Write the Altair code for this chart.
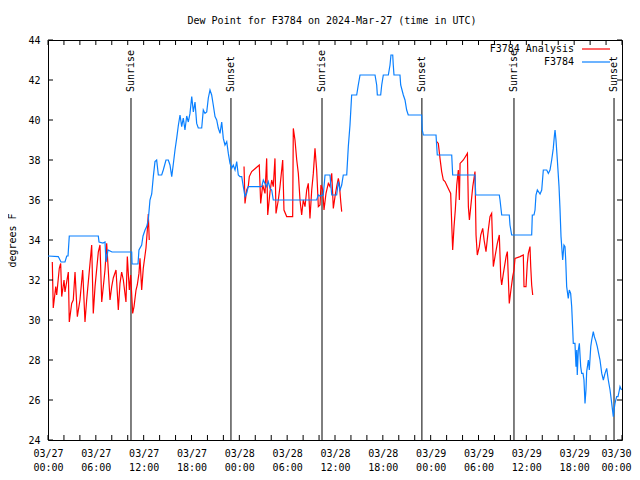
import json
import altair as alt
import pandas as pd

FONT = "DejaVu Sans Mono"

title_text = "Dew Point for F3784 on 2024-Mar-27 (time in UTC)"
y_title = "degrees F"

x_label_hours = [0, 6, 12, 18, 24, 30, 36, 42, 48, 54, 60, 66, 72]
x_tick_dates = ["03/27", "03/27", "03/27", "03/27", "03/28", "03/28", "03/28",
                "03/28", "03/29", "03/29", "03/29", "03/29", "03/30"]
x_tick_times = ["00:00", "06:00", "12:00", "18:00", "00:00", "06:00", "12:00",
                "18:00", "00:00", "06:00", "12:00", "18:00", "00:00"]
x_minor_hours = list(range(0, 73, 2))
y_ticks = list(range(24, 45, 2))

sun_hours = [10.41, 22.95, 34.37, 46.90, 58.45, 71.00]
sun_names = ["Sunrise", "Sunset", "Sunrise", "Sunset", "Sunrise", "Sunset"]

legend_names = ["F3784 Analysis", "F3784"]
series_colors = ["#ff0000", "#0a80ff"]

# observed dew point (hours since 03/27 00:00 UTC, degrees F)
blue_obs = [
    (0.0, 33.2), (1.29, 33.17), (1.63, 32.9), (2.13, 32.9), (2.35, 33.2), (2.51, 33.2),
    (2.67, 34.2), (6.31, 34.2), (6.40, 33.9), (6.90, 33.85), (7.15, 33.9), (7.28, 32.9),
    (7.53, 33.5), (8.03, 33.4), (10.50, 33.4), (10.54, 32.8), (11.29, 32.8), (11.41, 33.5),
    (11.75, 33.75), (11.92, 34.2), (12.17, 34.5), (12.38, 34.67), (12.58, 35.0),
    (12.79, 36.0), (13.01, 36.3), (13.21, 37.17), (13.42, 37.92), (13.63, 38.0),
    (13.84, 37.25), (14.26, 37.25), (14.46, 37.5), (14.80, 38.0), (15.09, 38.0),
    (15.30, 37.75), (15.52, 37.17), (15.72, 37.8), (15.93, 38.5), (16.14, 39.08),
    (16.34, 39.7), (16.56, 40.25), (16.77, 39.67), (16.97, 40.1), (17.18, 39.5),
    (17.40, 40.2), (17.60, 39.9), (17.81, 40.33), (18.03, 41.17), (18.23, 40.4),
    (18.44, 40.9), (18.65, 39.83), (18.85, 39.6), (19.28, 39.6), (19.48, 40.5),
    (19.69, 40.33), (19.91, 40.4), (20.11, 41.1), (20.32, 41.5), (20.53, 41.25),
    (20.73, 40.75), (20.95, 40.17), (21.16, 40.0), (21.36, 39.6), (21.58, 39.33),
    (21.79, 39.9), (21.99, 39.08), (22.20, 38.75), (22.42, 38.92), (22.62, 38.33),
    (22.83, 37.83), (23.04, 37.58), (23.24, 37.75), (23.46, 37.5), (23.67, 37.92),
    (23.87, 37.25), (24.08, 37.17), (24.30, 37.17), (24.50, 36.67), (24.71, 36.17),
    (24.92, 36.33), (25.12, 36.67), (26.81, 36.67), (27.01, 37.0), (27.22, 36.83),
    (27.43, 36.67), (27.63, 36.92), (27.85, 36.58), (28.06, 36.5), (28.26, 36.0),
    (33.70, 36.0), (33.91, 36.25), (34.12, 36.2), (34.53, 36.25), (34.75, 37.25),
    (35.37, 37.25), (35.59, 36.25), (36.21, 36.25), (36.42, 36.92), (36.63, 36.5),
    (36.84, 36.75), (37.04, 37.25), (37.47, 37.25), (37.67, 38.67), (37.88, 39.75),
    (38.09, 41.25), (38.72, 41.25), (38.92, 41.75), (39.14, 42.25), (41.02, 42.25),
    (41.23, 41.75), (41.31, 41.25), (41.73, 41.25), (41.86, 41.75), (42.06, 42.25),
    (42.69, 42.25), (42.90, 42.75), (43.02, 43.25), (43.24, 43.25), (43.31, 42.75),
    (43.40, 42.25), (44.15, 42.25), (44.24, 41.75), (44.57, 41.25), (44.78, 41.0),
    (44.99, 40.5), (45.19, 40.25), (46.87, 40.25), (46.95, 39.5), (47.08, 39.25),
    (48.67, 39.25), (48.83, 38.25), (50.64, 38.25), (50.76, 37.25), (53.56, 37.25),
    (53.65, 36.25), (56.61, 36.25), (56.70, 36.0), (56.91, 35.25), (57.86, 35.25),
    (57.95, 34.75), (58.16, 34.25), (60.67, 34.25), (60.75, 35.25), (60.96, 35.25),
    (61.09, 35.5), (61.21, 36.25), (61.38, 36.5), (61.72, 36.3), (61.93, 36.5),
    (62.13, 37.5), (62.56, 37.5), (62.76, 37.33), (62.97, 37.5), (63.18, 38.0),
    (63.38, 38.58), (63.51, 39.17), (63.60, 39.5), (63.72, 39.0), (63.89, 38.0),
    (64.10, 36.67), (64.22, 35.58), (64.35, 34.17), (64.56, 33.0), (64.72, 33.75),
    (64.85, 33.67), (64.94, 33.0), (65.06, 31.67), (65.26, 31.08), (65.39, 31.5),
    (65.56, 31.33), (65.69, 30.67), (65.82, 29.5), (65.89, 28.83), (66.10, 28.83),
    (66.23, 27.67), (66.32, 28.5), (66.39, 27.25), (66.52, 28.5), (66.65, 28.83),
    (66.82, 27.67), (66.94, 27.33), (67.11, 27.33), (67.23, 27.0), (67.36, 25.83),
    (67.48, 26.5), (67.57, 27.42), (67.78, 28.0), (67.90, 27.5), (68.08, 28.67),
    (68.20, 29.0), (68.40, 29.42), (68.53, 29.17), (68.74, 28.92), (68.90, 28.67),
    (69.15, 28.17), (69.24, 28.0), (69.46, 27.33), (69.66, 27.0), (69.87, 27.33),
    (70.08, 27.58), (70.28, 27.0), (70.50, 26.5), (70.71, 25.83), (70.91, 25.17),
    (71.00, 25.5), (71.12, 25.83), (71.33, 26.17), (71.50, 26.17), (71.67, 26.5),
    (71.75, 26.67), (71.94, 26.5),
]

# analysis dew point, three separate pieces
red_seg1 = [
    (0.54, 32.9), (0.66, 30.6), (0.97, 31.67), (1.09, 31.25), (1.42, 32.6), (1.59, 32.83),
    (1.72, 31.17), (2.01, 32.0), (2.13, 31.4), (2.55, 32.4), (2.67, 29.9), (2.97, 30.83),
    (3.17, 31.0), (3.39, 32.4), (3.68, 30.17), (4.01, 31.0), (4.35, 32.5), (4.64, 29.9),
    (4.85, 31.0), (5.27, 32.83), (5.48, 33.75), (5.68, 30.33), (5.90, 31.67), (6.31, 33.4),
    (6.52, 33.75), (6.74, 30.9), (7.15, 32.5), (7.36, 33.83), (7.56, 32.5), (7.78, 31.0),
    (7.99, 31.67), (8.19, 32.1), (8.53, 32.5), (8.82, 30.5), (9.03, 31.83), (9.24, 32.4),
    (9.45, 32.0), (9.78, 30.9), (9.95, 33.17), (10.20, 31.5), (10.37, 32.25), (10.62, 30.33),
    (10.79, 30.67), (11.04, 31.5), (11.20, 31.75), (11.41, 32.33), (11.54, 33.08),
    (11.75, 31.5), (11.95, 32.58), (12.29, 33.6), (12.46, 34.5), (12.58, 35.3), (12.70, 34.0),
]
red_seg2 = [
    (24.59, 37.67), (24.71, 35.83), (24.92, 36.5), (25.12, 36.67), (25.25, 37.17),
    (25.55, 37.42), (26.50, 37.75), (26.68, 35.83), (26.93, 36.75), (27.22, 36.33),
    (27.43, 38.08), (27.56, 35.25), (27.85, 36.42), (28.06, 37.0), (28.26, 36.67),
    (28.47, 38.08), (28.60, 35.33), (28.89, 36.0), (29.10, 36.67), (29.44, 38.0),
    (29.60, 35.5), (29.94, 35.17), (30.69, 35.17), (30.77, 39.58), (30.98, 39.0),
    (31.20, 38.0), (31.40, 37.33), (31.61, 36.0), (31.82, 35.25), (32.02, 36.0),
    (32.24, 35.67), (32.45, 36.5), (32.65, 36.83), (32.86, 35.08), (33.08, 36.5),
    (33.28, 37.33), (33.49, 38.58), (33.70, 37.5), (33.91, 35.67), (34.12, 35.75),
    (34.24, 36.75), (34.46, 36.5), (34.62, 35.5), (34.87, 36.33), (35.16, 36.83),
    (35.37, 36.67), (35.59, 37.33), (35.79, 35.58), (36.00, 36.17), (36.21, 36.67),
    (36.42, 37.08), (36.54, 36.83), (36.72, 35.92), (36.84, 35.42),
]
red_seg3 = [
    (48.76, 38.92), (48.96, 38.83), (49.17, 38.08), (49.38, 37.42), (49.59, 37.0),
    (49.80, 36.92), (50.21, 36.58), (50.51, 36.33), (50.64, 34.83), (50.76, 33.5),
    (50.93, 34.67), (51.09, 35.5), (51.27, 36.75), (51.47, 37.5), (51.60, 36.0),
    (51.69, 37.83), (52.10, 38.0), (52.61, 38.33), (52.73, 35.67), (52.86, 35.0),
    (53.03, 35.67), (53.28, 36.67), (53.56, 37.42), (53.69, 34.25), (53.85, 33.25),
    (54.10, 33.67), (54.28, 34.25), (54.53, 34.58), (54.70, 34.0), (54.94, 33.42),
    (55.23, 34.5), (55.44, 35.17), (55.65, 35.33), (55.86, 32.67), (56.07, 33.17),
    (56.36, 33.83), (56.61, 34.25), (56.79, 32.17), (56.91, 31.75), (57.12, 32.33),
    (57.46, 33.17), (57.62, 33.42), (57.75, 32.0), (57.86, 30.83), (58.04, 31.42),
    (58.29, 32.17), (58.45, 32.5), (58.58, 33.08), (59.21, 33.17), (59.62, 33.25),
    (59.71, 31.67), (59.96, 31.67), (60.12, 32.83), (60.25, 33.33), (60.46, 33.67),
    (60.55, 32.67), (60.67, 31.75), (60.80, 31.25),
]

# ---------------- tables ----------------
blue_df = pd.DataFrame(blue_obs, columns=["h", "v"])
red_parts = []
for i, seg in enumerate([red_seg1, red_seg2, red_seg3]):
    d = pd.DataFrame(seg, columns=["h", "v"])
    d["seg"] = i
    red_parts.append(d)
red_df = pd.concat(red_parts, ignore_index=True)
sun_df = pd.DataFrame({"h": sun_hours, "name": sun_names})
xt_df = pd.DataFrame({"h": x_minor_hours})
yt_df = pd.DataFrame({"v": y_ticks})

W, H = 574, 400

xs = alt.Scale(domain=[0, 72], nice=False, zero=False)
ys = alt.Scale(domain=[24, 44], nice=False, zero=False)

label_expr = "[{d}[datum.value / 6], {t}[datum.value / 6]]".format(
    d=json.dumps(x_tick_dates), t=json.dumps(x_tick_times))
last_hour = x_label_hours[-1]

x_axis = alt.Axis(values=x_label_hours, labelExpr=label_expr, ticks=False, domain=False,
                  grid=False, title=None, labelFont=FONT, labelFontSize=10,
                  labelLineHeight=14, labelPadding=8, labelColor="black",
                  labelOverlap=False, labelBound=False, labelFlush=False,
                  labelBaseline="top",
                  labelOffset={"condition": {"test": f"datum.value == {last_hour}", "value": -6},
                               "value": 0})
y_axis = alt.Axis(values=y_ticks, ticks=False, domain=False, grid=False,
                  title=y_title, titleFont=FONT, titleFontSize=10,
                  titleFontWeight="normal", titleColor="black",
                  titleX=-36, titleY=200, titleBaseline="middle", titleAngle=270,
                  labelFont=FONT, labelFontSize=10, labelPadding=8, labelColor="black")

X = alt.X("h:Q", scale=xs, axis=x_axis)
Y = alt.Y("v:Q", scale=ys, axis=y_axis)

sun_lines = alt.Chart(sun_df).mark_rule(color="black", strokeWidth=1).encode(
    x=X, y=alt.value(H), y2=alt.value(58))
sun_text = alt.Chart(sun_df).mark_text(
    angle=270, align="left", baseline="middle", font=FONT, fontSize=10, color="black"
).encode(x=X, y=alt.value(52), text="name:N")

red_line = alt.Chart(red_df).mark_line(color=series_colors[0], strokeWidth=1.2).encode(
    x=X, y=Y, detail="seg:N")
blue_line = alt.Chart(blue_df).mark_line(color=series_colors[1], strokeWidth=1.2).encode(
    x=X, y=Y)

tick_bottom = alt.Chart(xt_df).mark_rule(color="black").encode(
    x=X, y=alt.value(H), y2=alt.value(H - 5))
tick_top = alt.Chart(xt_df).mark_rule(color="black").encode(
    x=X, y=alt.value(0), y2=alt.value(5))
tick_left = alt.Chart(yt_df).mark_rule(color="black").encode(
    y=Y, x=alt.value(0), x2=alt.value(5))
tick_right = alt.Chart(yt_df).mark_rule(color="black").encode(
    y=Y, x=alt.value(W), x2=alt.value(W - 5))

title_mark = alt.Chart(pd.DataFrame({"t": [title_text]})).mark_text(
    font=FONT, fontSize=10, color="black", align="center", baseline="alphabetic"
).encode(x=alt.value(284), y=alt.value(-16), text="t:N")

legend_layers = []
for i, (nm, col) in enumerate(zip(legend_names, series_colors)):
    yy = 9 + i * 13
    ldf = pd.DataFrame({"name": [nm]})
    legend_layers.append(alt.Chart(ldf).mark_text(
        font=FONT, fontSize=10, color="black", align="right", baseline="middle"
    ).encode(x=alt.value(526), y=alt.value(yy), text="name:N"))
    legend_layers.append(alt.Chart(ldf).mark_rule(color=col, strokeWidth=1.2).encode(
        x=alt.value(534), x2=alt.value(562), y=alt.value(yy)))

chart = alt.layer(
    sun_lines, red_line, blue_line, sun_text,
    tick_bottom, tick_top, tick_left, tick_right,
    title_mark, *legend_layers
).properties(
    width=W, height=H,
    autosize=alt.AutoSizeParams(type="none"),
    padding={"left": 40, "top": 32, "right": 10, "bottom": 32},
    background="white",
).configure_view(stroke="black", strokeWidth=1)

chart.save("out.html", embed_options={"renderer": "svg", "actions": False})
